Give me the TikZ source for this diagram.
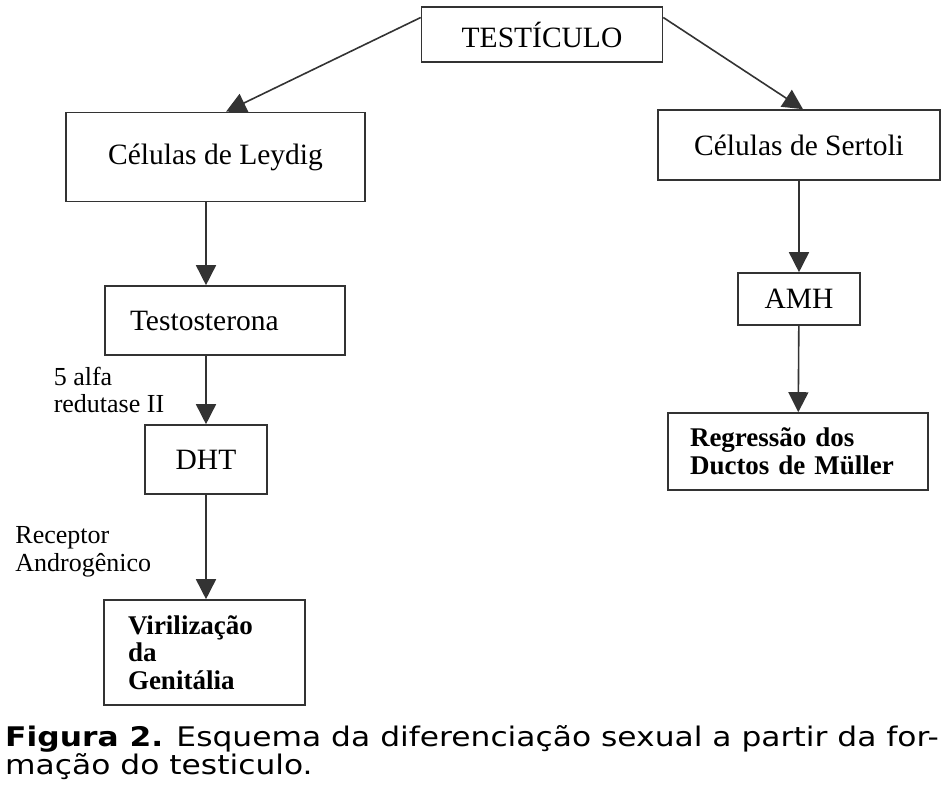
\documentclass[tikz,border=0pt]{standalone}
\usepackage{fontspec}
\setmainfont{Liberation Serif}
\newfontfamily\capfont[FakeStretch=1.16]{DejaVu Sans}
\usetikzlibrary{arrows.meta, calc}
\tikzset{
  box/.style={rectangle, draw=black!80, line width=1.6pt, inner sep=0pt, font=\fontsize{29.5}{31}\selectfont},
  leftbox/.style={box, align=left, inner ysep=0pt},
  boldbox/.style={leftbox, font=\fontsize{27}{27.5}\selectfont\bfseries},
  lbl/.style={align=left, inner sep=0pt, font=\fontsize{26}{27.5}\selectfont},
  arr/.style={-{Triangle[length=20pt, width=20pt]}, line width=1.6pt, draw=black!80}
}

\begin{document}
\begin{tikzpicture}[x=1pt, y=-1pt]
  \useasboundingbox (0,0) rectangle (945,791);

  \node[box, minimum width=241pt, minimum height=55pt] (testiculo) at (542,34.5) {TESTÍCULO};

  % left branch
  \node[box, minimum width=299pt, minimum height=89pt] (leydig) at (215.5,157) {Células de Leydig};
  \node[leftbox, inner xsep=25pt, text width=190pt, minimum height=69pt] (testost) at (225,320.5) {Testosterona};
  \node[box, minimum width=122pt, minimum height=69pt] (dht) at (206,459.5) {DHT};
  \node[boldbox, inner xsep=24pt, text width=153pt, minimum height=105pt] (viril) at (204.5,652.5) {Virilização\\da\\Genitália};

  % right branch
  \node[box, minimum width=282pt, minimum height=70pt] (sertoli) at (799,145) {Células de Sertoli};
  \node[box, minimum width=122pt, minimum height=52pt] (amh) at (799,299) {AMH};
  \node[boldbox, inner xsep=22pt, text width=216pt, minimum height=77pt] (regressao) at (798,451.5) {Regressão dos\\Ductos de Müller};

  \draw[arr] ($(testiculo.north west)!0.2!(testiculo.south west)$) -- ($(leydig.north west)!0.535!(leydig.north east)$);
  \draw[arr] ($(testiculo.north east)!0.2!(testiculo.south east)$) -- ($(sertoli.north west)!0.514!(sertoli.north east)$);

  \draw[arr] (leydig.south -| dht.north) -- (testost.north -| dht.north);
  \draw[arr] (testost.south -| dht.north) -- node[lbl, left=41pt] {5 alfa\\redutase II} (dht.north);
  \draw[arr] (dht.south) -- node[lbl, left=54pt, yshift=-5pt] {Receptor\\Androgênico} (viril.north -| dht.south);

  \draw[arr] (sertoli) -- (amh);
  \draw[arr] (amh) -- (regressao);

  \node[anchor=base west, align=left, inner sep=0pt, font=\capfont\fontsize{27}{25.5}\selectfont] (legenda) at (5,774)
    {\textbf{Figura 2.} Esquema da diferenciação sexual a partir da for-\\mação do testiculo.};
\end{tikzpicture}
\end{document}
